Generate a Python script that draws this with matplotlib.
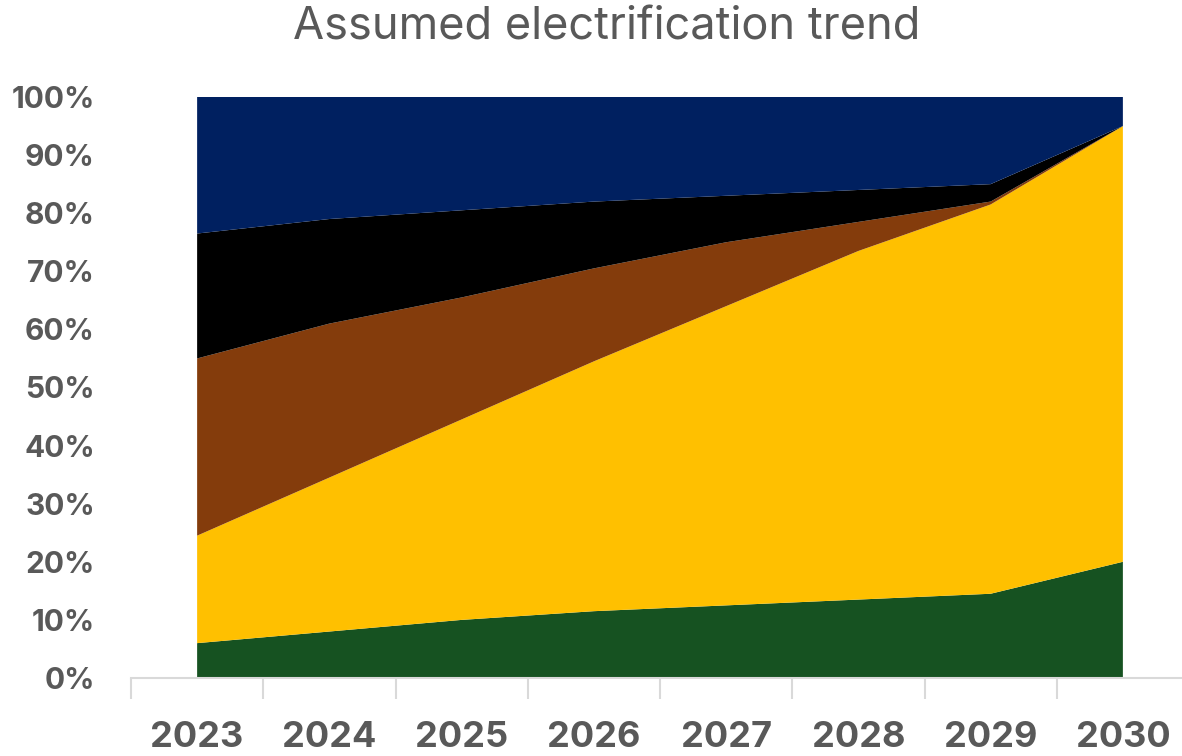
import numpy as np
import matplotlib.pyplot as plt

plt.rcParams['font.family'] = ['Inter', 'DejaVu Sans']

years = ['2023', '2024', '2025', '2026', '2027', '2028', '2029', '2030']

# share of each segment, in percent (stacked bottom to top)
green = [6, 8, 10, 11.5, 12.5, 13.5, 14.5, 20]
yellow = [18.5, 26.5, 34.5, 43, 51.5, 60, 67, 75]
brown = [30.5, 26.5, 21, 16, 11, 5, 0.5, 0]
black = [21.5, 18, 15, 11.5, 8, 5.5, 3, 0]
navy = [23.5, 21, 19.5, 18, 17, 16, 15, 5]

colors = ['#165221', '#FFC000', '#843C0C', '#000000', '#002060']
label_grey = '#595959'

fig = plt.figure(figsize=(11.82, 7.56), dpi=100)
ax = fig.add_axes([131 / 1182, 78 / 756, 1058 / 1182, 581 / 756])

x = np.arange(len(years))
layers = np.array([green, yellow, brown, black, navy]) / 100.0
ax.stackplot(x, layers, colors=colors, linewidth=0)

ax.set_xlim(-0.5, len(years) - 0.5)
ax.set_ylim(0, 1)

# category labels centred on the points, tick marks between categories
ax.set_xticks(x)
ax.set_xticklabels(years, fontsize=26, fontweight='bold', color=label_grey)
ax.set_xticks(np.arange(-0.5, len(years)), minor=True)
ax.tick_params(axis='x', which='major', length=0, pad=31)
ax.tick_params(axis='x', which='minor', length=15, width=1.5, color='#d9d9d9')

ax.set_yticks(np.linspace(0, 1, 11))
ax.set_yticklabels([f'{v}%' for v in range(0, 101, 10)],
                   fontsize=21.5, fontweight='bold', color=label_grey)
ax.tick_params(axis='y', length=0, pad=26)

for side in ['top', 'right', 'left']:
    ax.spines[side].set_visible(False)
ax.spines['bottom'].set_color('#d9d9d9')
ax.spines['bottom'].set_linewidth(1.5)

fig.text(607 / 1182, 1 - 27 / 756, 'Assumed electrification trend',
         ha='center', va='center', fontsize=32.5, color=label_grey)

fig.savefig('out.png', dpi=100)
